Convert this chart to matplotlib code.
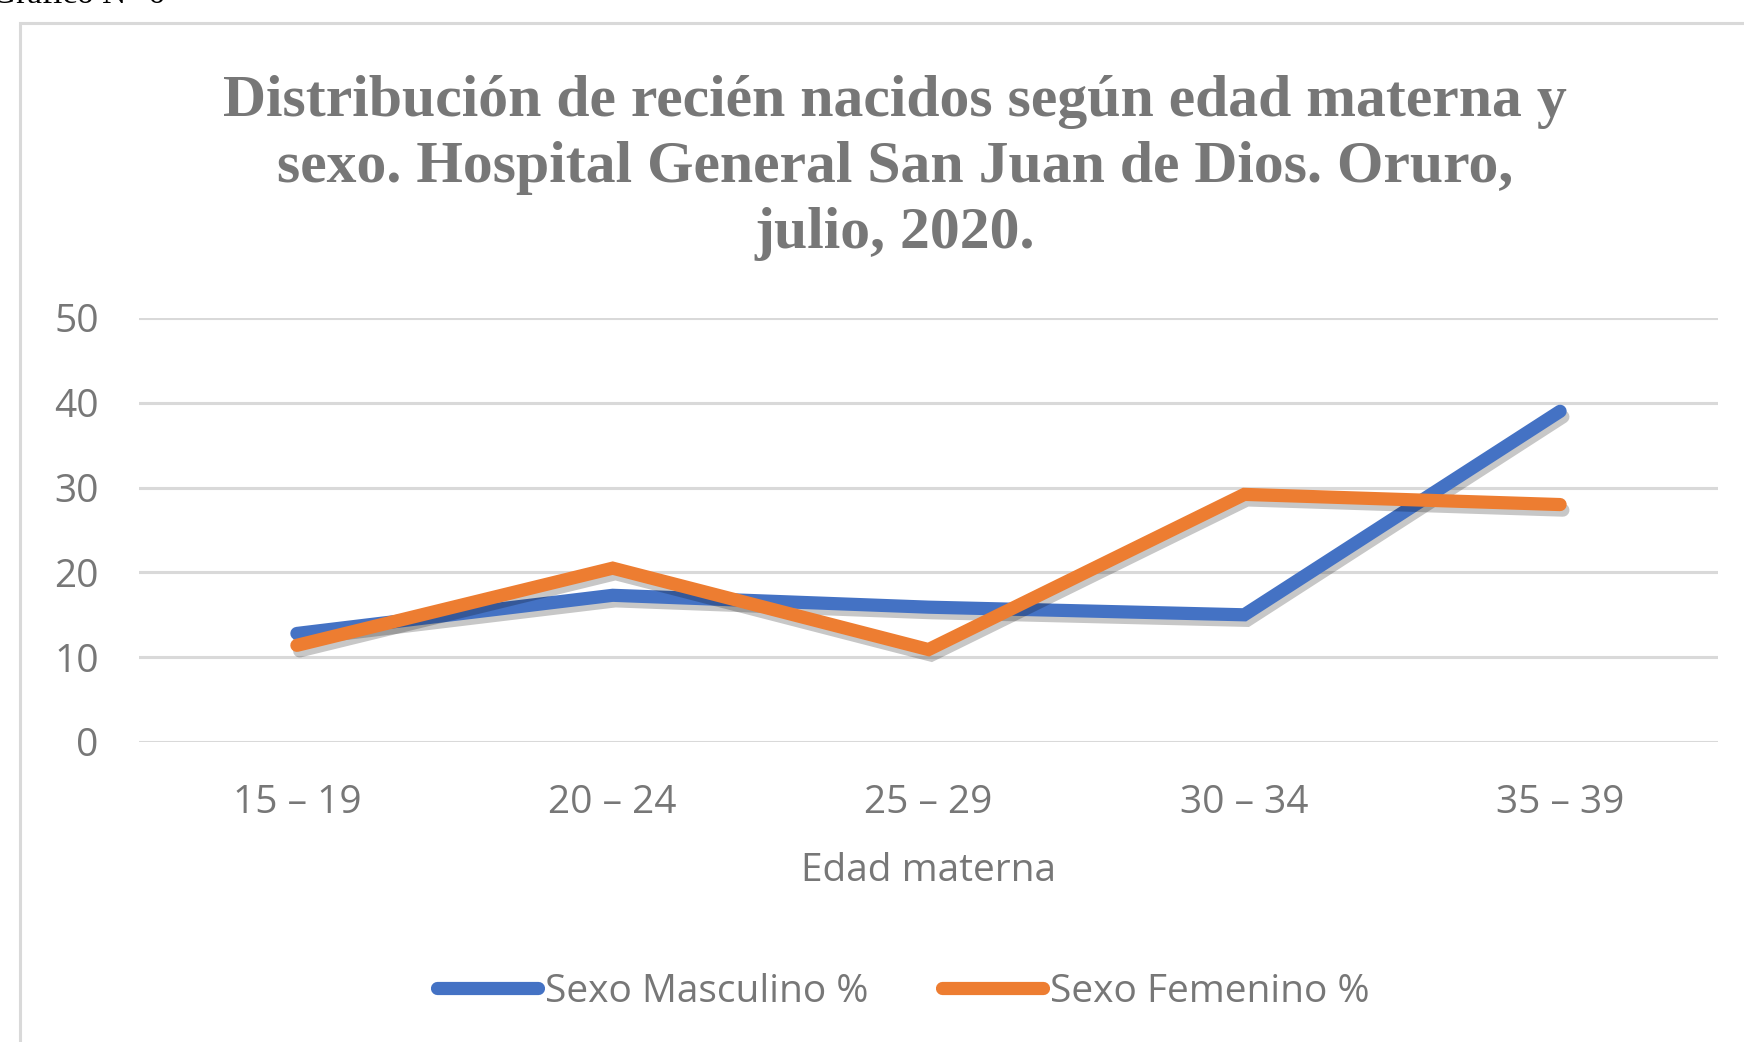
import matplotlib.pyplot as plt
import matplotlib.patheffects as pe
from matplotlib.patches import Rectangle
import numpy as np

grupos = ["15 – 19", "20 – 24", "25 – 29", "30 – 34", "35 – 39"]
masculino = [12.8, 17.3, 15.9, 15.0, 39.0]
femenino = [11.4, 20.5, 10.9, 29.2, 28.0]
titulo = ["Distribución de recién nacidos según edad materna y",
          "sexo. Hospital General San Juan de Dios. Oruro,",
          "julio, 2020."]

W, H = 1744, 1042
fig = plt.figure(figsize=(W / 100, H / 100), dpi=100)

gris = '#777777'
sans = 'Open Sans'

# marco del grafico (sale por la derecha y por abajo)
fig.patches.append(Rectangle((20 / W, -0.05), 1.1, 1 - 23 / H + 0.05,
                             transform=fig.transFigure, fill=False,
                             edgecolor='#d9d9d9', lw=2.2))

# texto recortado arriba a la izquierda (viene de la pagina)
fig.text(165 / W, 1 - 3 / H, "Gráfico N° 6", ha='right', va='baseline',
         family='Liberation Serif', fontsize=24, color='black')

for i, linea in enumerate(titulo):
    fig.text(895 / W, 1 - (116 + 66 * i) / H, linea, ha='center', va='baseline',
             family='Liberation Serif', weight='bold', fontsize=43, color=gris)

ax = fig.add_axes([139 / W, 1 - 742 / H, (1718 - 139) / W, (742 - 318) / H])
x = np.arange(len(grupos))

sombra = [pe.SimpleLineShadow(offset=(2, -4), shadow_color='black', alpha=0.22),
          pe.Normal()]
ax.plot(x, masculino, color='#4472C4', lw=9.5, solid_capstyle='round',
        solid_joinstyle='miter', label='Sexo Masculino %', path_effects=sombra, zorder=3)
ax.plot(x, femenino, color='#ED7D31', lw=9.5, solid_capstyle='round',
        solid_joinstyle='miter', label='Sexo Femenino %', path_effects=sombra, zorder=4)

ax.set_xlim(-0.5, len(grupos) - 0.5)
ax.set_ylim(0, 50)
ax.set_yticks([0, 10, 20, 30, 40, 50])
ax.set_xticks(x)
ax.set_xticklabels(grupos)
ax.grid(axis='y', color='#d9d9d9', lw=2.2)
ax.set_axisbelow(True)
for s in ax.spines.values():
    s.set_visible(False)
ax.tick_params(axis='both', length=0, labelsize=28, labelcolor=gris)
ax.tick_params(axis='y', pad=29)
ax.tick_params(axis='x', pad=30)
for t in ax.get_xticklabels() + ax.get_yticklabels():
    t.set_family(sans)

ax.set_xlabel("Edad materna", family=sans, fontsize=28, color=gris, va='center')
ax.xaxis.set_label_coords(0.5, (742 - 871) / (742 - 318))

fig.legend(loc='center', bbox_to_anchor=(903 / W, 1 - 992 / H), ncol=2,
           frameon=False, handlelength=2.6, handletextpad=0.18, columnspacing=1.9,
           prop={'family': sans, 'size': 28}, labelcolor=gris)
for h in fig.legends[0].get_lines():
    h.set_linewidth(9.5)
    h.set_path_effects([])

fig.savefig('out.png', dpi=100)
